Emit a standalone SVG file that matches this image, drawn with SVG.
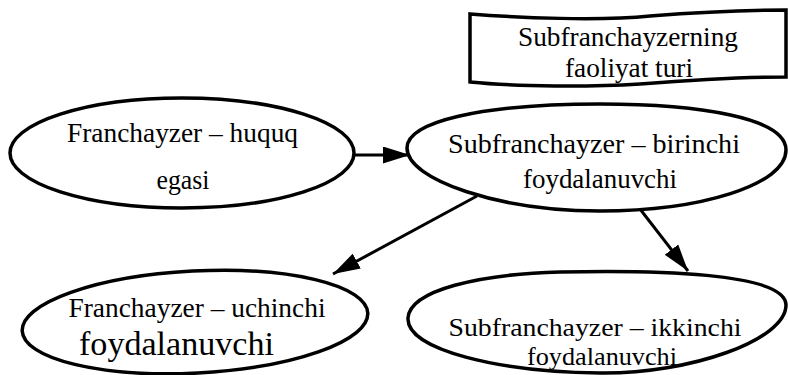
<svg xmlns="http://www.w3.org/2000/svg" width="788" height="375" viewBox="0 0 788 375">
<style>
.shape{fill:#fff;stroke:#000;stroke-width:3.5}
.conn{stroke:#000;stroke-width:3;fill:none}
text{font-family:"Liberation Serif","Times New Roman",serif;font-size:28px;fill:#000;text-anchor:middle}
text.big{font-size:33px}
text.sm{font-size:26px}
</style>
<defs>
<marker id="ah" markerUnits="userSpaceOnUse" markerWidth="30" markerHeight="18" refX="27" refY="8.5" orient="auto">
<path d="M0,0 L27,8.5 L0,17 Z" fill="#000"/>
</marker>
</defs>
<rect width="788" height="375" fill="#fff"/>
<g id="banner">
<path class="shape" d="M470,14 C520,18 600,21 650,16 C700,12 740,10 786,10 L786,77 C740,77 690,80 640,84 C590,87 520,87 470,82 Z"/>
<text x="628" y="46" textLength="220" lengthAdjust="spacingAndGlyphs">Subfranchayzerning</text>
<text x="629" y="77" textLength="128" lengthAdjust="spacingAndGlyphs">faoliyat turi</text>
</g>
<g id="node-huquq-egasi">
<ellipse class="shape" cx="182" cy="153" rx="172" ry="55"/>
<text x="182.5" y="142" textLength="231" lengthAdjust="spacingAndGlyphs">Franchayzer – huquq</text>
<text x="183" y="189" textLength="53" lengthAdjust="spacingAndGlyphs">egasi</text>
</g>
<g id="node-birinchi">
<path class="shape" d="M407,148 C407,122 480,104 600,104 C700,104 786,118 786,150 C786,185 700,211 600,211 C500,211 407,180 407,148 Z"/>
<text x="594" y="153" textLength="292" lengthAdjust="spacingAndGlyphs">Subfranchayzer – birinchi</text>
<text x="600" y="188" textLength="154" lengthAdjust="spacingAndGlyphs">foydalanuvchi</text>
</g>
<g id="node-uchinchi">
<ellipse class="shape" cx="195" cy="322" rx="173" ry="51" transform="rotate(-3 195 322)"/>
<text x="197" y="317" textLength="257" lengthAdjust="spacingAndGlyphs">Franchayzer – uchinchi</text>
<text class="big" x="176.5" y="355" textLength="195" lengthAdjust="spacingAndGlyphs">foydalanuvchi</text>
</g>
<g id="node-ikkinchi">
<path class="shape" d="M408,318 C410,290 480,274 560,272 C650,270 786,272 786,305 C786,340 690,374 600,373 C500,372 406,350 408,318 Z"/>
<text class="sm" x="595" y="336" textLength="293" lengthAdjust="spacingAndGlyphs">Subfranchayzer – ikkinchi</text>
<text class="sm" x="602" y="365" textLength="150" lengthAdjust="spacingAndGlyphs">foydalanuvchi</text>
</g>
<g id="connectors">
<line class="conn" x1="354" y1="155" x2="410" y2="155" marker-end="url(#ah)"/>
<line class="conn" x1="477" y1="196" x2="333" y2="274" marker-end="url(#ah)"/>
<line class="conn" x1="640" y1="209" x2="688" y2="271" marker-end="url(#ah)"/>
</g>
</svg>
